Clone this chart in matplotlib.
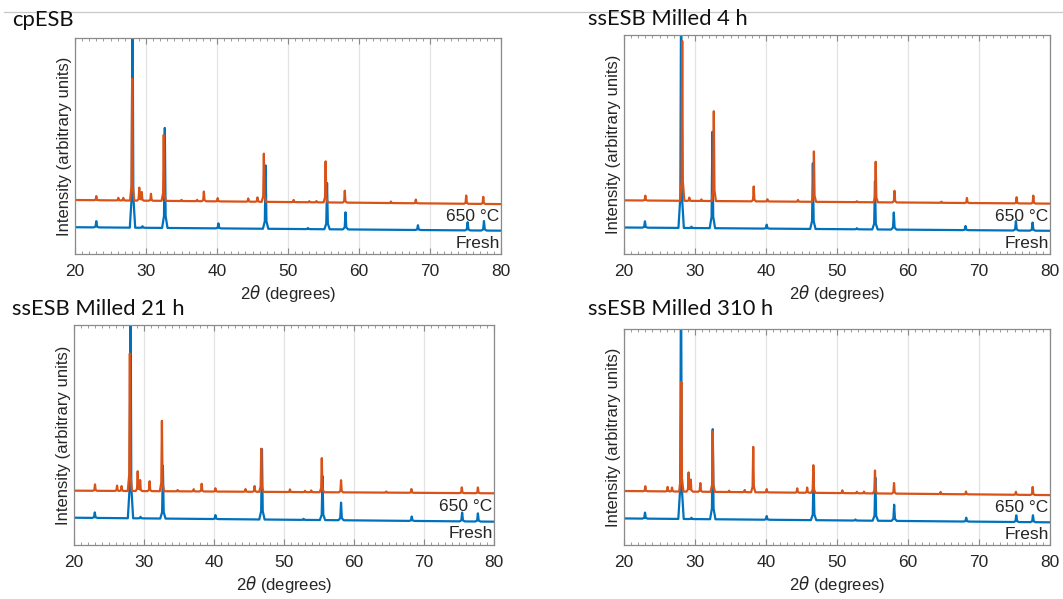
import numpy as np
import matplotlib
matplotlib.use("Agg")
import matplotlib.pyplot as plt
from matplotlib.ticker import MultipleLocator

plt.rcParams['font.family'] = ['Liberation Sans', 'DejaVu Sans']

# ---- peak tables: 2theta position, height above baseline ----
# baselines are given as (value at 20 deg, value at 80 deg); y axis is 0..100
cp_fresh_base = (12.4, 10.8)
cp_fresh_pos = [23.0, 28.1, 29.5, 32.65, 40.2, 46.85, 52.8, 55.5, 58.1, 68.3, 75.3, 77.6]
cp_fresh_h = [2.9, 120, 0.7, 46.3, 2.3, 29.3, 0.5, 21.4, 7.9, 2.2, 3.8, 4.4]
cp_650_base = (25.0, 23.1)
cp_650_pos = [23.0, 26.1, 26.8, 28.05, 29.05, 29.4, 30.7, 32.5, 35.0, 37.2, 38.15, 40.1,
              44.4, 45.7, 46.6, 50.8, 53.0, 54.0, 55.3, 58.0, 64.5, 68.0, 75.1, 77.5]
cp_650_h = [1.9, 1.2, 1.2, 56.3, 6.0, 4.0, 3.2, 30.5, 0.5, 0.6, 4.5, 1.5,
            1.5, 2.0, 22.3, 1.0, 0.5, 0.6, 19.0, 5.5, 0.7, 1.7, 3.8, 3.3]

m4_fresh_base = (12.1, 10.6)
m4_fresh_pos = [22.95, 28.05, 29.5, 32.45, 40.1, 46.6, 52.8, 55.35, 58.0, 68.1, 75.2, 77.55]
m4_fresh_h = [2.9, 120, 0.6, 44.0, 1.8, 30.0, 0.5, 22.0, 7.8, 1.9, 4.3, 3.7]
m4_650_base = (24.5, 23.0)
m4_650_pos = [23.0, 28.2, 29.2, 30.9, 32.65, 38.27, 40.2, 44.5, 46.75, 52.8, 55.45, 58.1,
              64.7, 68.3, 75.3, 77.65]
m4_650_h = [2.2, 73.0, 1.5, 0.7, 41.0, 6.8, 1.0, 0.8, 23.0, 0.4, 18.5, 5.3,
            0.5, 2.3, 2.8, 3.6]

m21_fresh_base = (12.4, 10.6)
m21_fresh_pos = [22.97, 28.07, 29.5, 32.7, 40.2, 46.85, 52.8, 55.5, 58.15, 68.25, 75.45, 77.7]
m21_fresh_h = [2.5, 120, 0.7, 24.0, 1.8, 32.0, 0.5, 20.0, 8.0, 2.0, 4.0, 3.7]
m21_650_base = (24.7, 23.5)
m21_650_pos = [23.0, 26.15, 26.8, 27.98, 29.1, 29.45, 30.8, 32.56, 34.8, 37.1, 38.24, 40.2,
               44.5, 45.8, 46.75, 50.85, 53.0, 53.9, 55.4, 58.15, 64.6, 68.2, 75.4, 77.7]
m21_650_h = [2.9, 2.4, 2.2, 62.5, 9.0, 5.0, 4.5, 32.0, 0.6, 1.0, 3.5, 1.5,
             1.2, 2.6, 19.6, 1.2, 0.6, 0.8, 15.5, 5.5, 0.5, 1.7, 2.6, 2.6]

m310_fresh_base = (12.3, 10.5)
m310_fresh_pos = [22.96, 28.03, 29.5, 32.5, 40.1, 46.7, 52.6, 55.4, 58.05, 68.2, 75.25, 77.6]
m310_fresh_h = [2.8, 120, 0.6, 41.7, 1.7, 22.0, 0.5, 20.0, 7.5, 1.8, 3.1, 3.2]
m310_650_base = (25.0, 23.1)
m310_650_pos = [23.0, 26.15, 26.76, 28.07, 29.1, 29.4, 30.75, 32.5, 34.8, 37.0, 38.2, 40.1,
                44.4, 45.8, 46.67, 50.75, 52.8, 53.8, 55.35, 58.03, 64.6, 68.17, 75.2, 77.56]
m310_650_h = [2.3, 2.1, 1.8, 50.8, 8.9, 5.6, 4.0, 28.0, 0.6, 1.0, 21.0, 1.5,
              2.0, 2.4, 12.8, 1.3, 0.7, 0.8, 10.6, 4.9, 1.0, 1.3, 1.4, 3.7]

titles = ["cpESB", "ssESB Milled 4 h", "ssESB Milled 21 h", "ssESB Milled 310 h"]
fresh_sets = [(cp_fresh_base, cp_fresh_pos, cp_fresh_h),
              (m4_fresh_base, m4_fresh_pos, m4_fresh_h),
              (m21_fresh_base, m21_fresh_pos, m21_fresh_h),
              (m310_fresh_base, m310_fresh_pos, m310_fresh_h)]
hot_sets = [(cp_650_base, cp_650_pos, cp_650_h),
            (m4_650_base, m4_650_pos, m4_650_h),
            (m21_650_base, m21_650_pos, m21_650_h),
            (m310_650_base, m310_650_pos, m310_650_h)]

# ---- styling ----
BLUE = '#0072BD'
ORANGE = '#D95319'
TXT = '#262626'
# peak outline: offsets (in units of half width) and relative heights
prof_dx = np.array([-1.0, -0.3, 0.0, 0.3, 1.0])
prof_dy = np.array([0.0, 0.12, 1.0, 0.12, 0.0])


def pattern(base, pos, h, hw):
    # piecewise-linear outline: baseline plus one small tent per peak
    xs = [20.0, 80.0]
    for p in pos:
        xs.extend(p + prof_dx * hw)
    xs = np.unique(np.clip(xs, 20, 80))
    ys = np.interp(xs, [20, 80], base)
    for p, hh in zip(pos, h):
        ys = ys + hh * np.interp(xs, p + prof_dx * hw, prof_dy, left=0, right=0)
    return xs, ys


fig = plt.figure(figsize=(10.63, 5.99), dpi=100)
W, H = 1063, 599
boxes = [(75, 38, 501, 254), (624, 35, 1050, 254), (74, 325, 494, 545), (624, 329, 1050, 545)]
title_xy = [(12, 26), (588, 25), (12, 315), (588, 315)]

for i in range(4):
    l, t, r, b = boxes[i]
    ax = fig.add_axes([l / W, 1 - b / H, (r - l) / W, (b - t) / H])
    xb, yb = pattern(*fresh_sets[i], hw=0.38)
    xo, yo = pattern(*hot_sets[i], hw=0.3)
    ax.plot(xb, yb, color=BLUE, lw=1.6, solid_joinstyle='round')
    ax.plot(xo, yo, color=ORANGE, lw=1.6, solid_joinstyle='round')
    ax.set_xlim(20, 80)
    ax.set_ylim(0, 100)
    ax.xaxis.set_major_locator(MultipleLocator(10))
    ax.xaxis.set_minor_locator(MultipleLocator(1))
    ax.set_yticks([])
    ax.grid(True, axis='x', color='#e3e3e3', lw=0.9)
    ax.set_axisbelow(True)
    for s in ax.spines.values():
        s.set_color('#8a8a8a')
        s.set_linewidth(0.9)
    ax.tick_params(axis='x', which='both', direction='in', top=True, colors='#8a8a8a',
                   labelcolor=TXT, labelsize=12.5, pad=7)
    ax.tick_params(axis='x', which='major', length=4)
    ax.tick_params(axis='x', which='minor', length=2)
    ax.set_xlabel(r'2$\theta$ (degrees)', fontsize=12, color=TXT, labelpad=3)
    ax.set_ylabel('Intensity (arbitrary units)', fontsize=12, color=TXT, labelpad=2)
    ax.text(79.8, 17.3, '650 °C', ha='right', va='center', fontsize=12.5, color=TXT)
    ax.text(79.8, 5.0, 'Fresh', ha='right', va='center', fontsize=12.5, color=TXT)
    tx, ty = title_xy[i]
    fig.text(tx / W, 1 - ty / H, titles[i], family='Lato', fontsize=15.8, color='#111111',
             va='baseline', ha='left')

fig.add_artist(plt.Line2D([4 / W, 1], [1 - 12 / H, 1 - 12 / H], color='#c8c8c8', lw=0.9))

fig.savefig('out.png', dpi=100)
